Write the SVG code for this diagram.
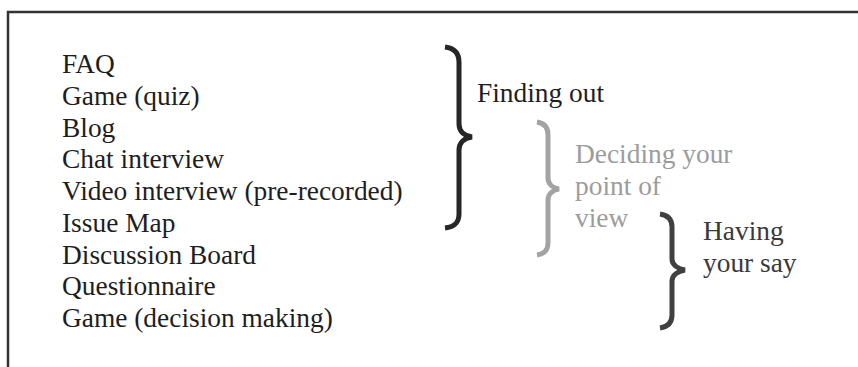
<svg xmlns="http://www.w3.org/2000/svg" width="858" height="367" viewBox="0 0 858 367">
  <style>
    .txt { font-family: "Liberation Serif", "Times New Roman", serif; font-size: 27.4px; }
    .item { fill: #1e1e1e; }
    .dark { fill: #1e1e1e; }
    .grey { fill: #9c9c9c; }
    .mid { fill: #3a3a3a; }
    .brace { fill: none; stroke-width: 5; stroke-linecap: butt; stroke-linejoin: miter; }
  </style>
  <rect width="858" height="367" fill="#ffffff"/>
  <!-- frame, open to the right and bottom -->
  <rect x="8" y="12" width="880" height="400" fill="none" stroke="#333333" stroke-width="2.5"/>

  <!-- list of tools -->
  <g id="tools" class="txt item">
    <text x="62" y="73">FAQ</text>
    <text x="62" y="105">Game (quiz)</text>
    <text x="62" y="137">Blog</text>
    <text x="62" y="168">Chat interview</text>
    <text x="62" y="200">Video interview (pre-recorded)</text>
    <text x="62" y="232">Issue Map</text>
    <text x="62" y="264">Discussion Board</text>
    <text x="62" y="295">Questionnaire</text>
    <text x="62" y="327">Game (decision making)</text>
  </g>

  <!-- brackets -->
  <g id="braces">
    <path class="brace" stroke="#262626" d="M445,47 C453,48 459,52 459,62 L459,124 C459,132 465,136 472,137 C465,138 459,142 459,150 L459,214 C459,224 453,227 445,228"/>
    <path class="brace" stroke="#a3a3a3" d="M537,122 C544,123 548,127 548,135 L548,178 C548,184 553,188 559,189 C553,190 548,194 548,200 L548,243 C548,251 544,254 537,255"/>
    <path class="brace" stroke="#404040" d="M660,214 C667,215 672,219 672,227 L672,259 C672,265 678,269 685,270 C678,271 672,275 672,281 L672,315 C672,323 667,327 660,328"/>
  </g>

  <g id="finding-out" class="txt dark">
    <text x="477" y="102">Finding out</text>
  </g>
  <g id="deciding" class="txt grey">
    <text x="575" y="163">Deciding your</text>
    <text x="575" y="195">point of</text>
    <text x="575" y="227">view</text>
  </g>
  <g id="having-say" class="txt mid">
    <text x="703" y="240">Having</text>
    <text x="703" y="272">your say</text>
  </g>
</svg>
